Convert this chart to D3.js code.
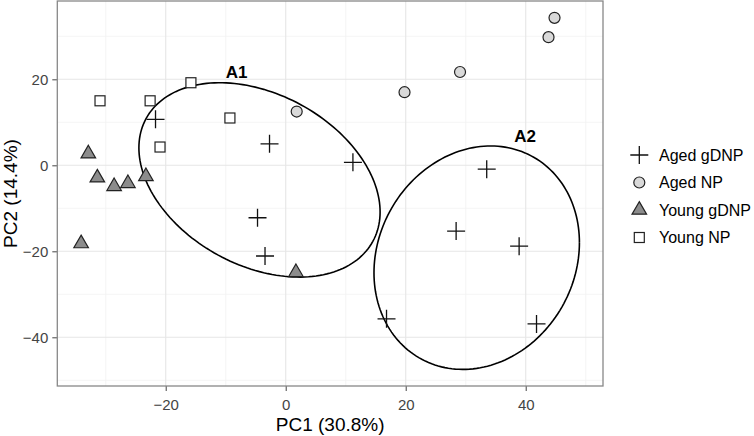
<!DOCTYPE html>
<html><head><meta charset="utf-8">
<script src="https://cdn.jsdelivr.net/npm/d3@7"></script>
<style>body{margin:0;background:#fff}svg{display:block;font-family:"Liberation Sans",Arial,sans-serif}</style>
</head><body><svg id="c" width="754" height="436"></svg>
<script>
// ---- data ----
const groups = ["Aged gDNP","Aged NP","Young gDNP","Young NP"];
const agedGDNP_x = [-21.7,-2.7,11.2,-4.7,-3.45,33.5,28.4,38.9,16.8,41.8];
const agedGDNP_y = [10.7,5.0,0.7,-12.2,-21.1,-0.9,-15.3,-18.8,-35.7,-36.9];
const agedNP_x = [19.8,29.05,43.8,44.8,1.83];
const agedNP_y = [17.0,21.7,29.8,34.3,12.5];
const youngGDNP_x = [-32.9,-31.4,-28.6,-26.3,-23.3,-34.1,1.7];
const youngGDNP_y = [2.7,-2.9,-4.9,-4.2,-2.6,-18.2,-24.9];
const youngNP_x = [-30.95,-22.6,-15.8,-20.95,-9.3];
const youngNP_y = [15.0,15.0,19.2,4.25,11.0];
// ellipses: centre, half-extent in x and y, correlation
const ellipseNames = ["A1","A2"];
const ellipseCx = [-4.37,31.83];
const ellipseCy = [-3.4,-21.49];
const ellipseSx = [20.1,17.12];
const ellipseSy = [22.6,25.98];
const ellipseR = [-0.33,0.135];
const labelX = [-8.17,39.9];
const labelY = [21.8,6.8];
const xTicks = [-20,0,20,40];
const yTicks = [-40,-20,0,20];
const xMinor = [-30,-10,10,30,50];
const yMinor = [-50,-30,-10,10,30];
const xTitle = "PC1 (30.8%)";
const yTitle = "PC2 (14.4%)";

// ---- layout ----
const svg = d3.select("#c");
const L=57.3, R=603, T=1, B=386;
const x = d3.scaleLinear().domain([-38.07,52.88]).range([L,R]);
const y = d3.scaleLinear().domain([-51.33,38.21]).range([B,T]);

svg.append("rect").attr("x",L).attr("y",T).attr("width",R-L).attr("height",B-T).attr("fill","#fff");
const grid = svg.append("g");
xMinor.forEach(v=>grid.append("line").attr("x1",x(v)).attr("x2",x(v)).attr("y1",T).attr("y2",B).attr("stroke","#f2f2f2").attr("stroke-width",0.8));
yMinor.forEach(v=>grid.append("line").attr("y1",y(v)).attr("y2",y(v)).attr("x1",L).attr("x2",R).attr("stroke","#f2f2f2").attr("stroke-width",0.8));
xTicks.forEach(v=>grid.append("line").attr("x1",x(v)).attr("x2",x(v)).attr("y1",T).attr("y2",B).attr("stroke","#e6e6e6").attr("stroke-width",1.1));
yTicks.forEach(v=>grid.append("line").attr("y1",y(v)).attr("y2",y(v)).attr("x1",L).attr("x2",R).attr("stroke","#e6e6e6").attr("stroke-width",1.1));

// axes
const ax = svg.append("g").attr("transform",`translate(0,${B})`).call(d3.axisBottom(x).tickValues(xTicks).tickSize(5).tickPadding(8).tickFormat(d3.format("d")));
const ay = svg.append("g").attr("transform",`translate(${L},0)`).call(d3.axisLeft(y).tickValues(yTicks).tickSize(5).tickPadding(4).tickFormat(d3.format("d")));
[ax,ay].forEach(a=>{a.select(".domain").remove();a.selectAll("line").attr("stroke","#555").attr("stroke-width",1.1);
  a.selectAll("text").attr("fill","#444").style("font-size","15px").style("font-family","Liberation Sans, Arial, sans-serif");});
ay.selectAll("text").attr("dy","0.36em");

// ellipses
const line = d3.line().x(d=>x(d[0])).y(d=>y(d[1]));
ellipseNames.forEach((n,i)=>{
  const pts = d3.range(0,361,2).map(a=>{const t=a*Math.PI/180;const r=ellipseR[i];
    return [ellipseCx[i]+ellipseSx[i]*Math.cos(t), ellipseCy[i]+ellipseSy[i]*(r*Math.cos(t)+Math.sqrt(1-r*r)*Math.sin(t))];});
  svg.append("path").attr("d",line(pts)).attr("fill","none").attr("stroke","#000").attr("stroke-width",1.6);
  svg.append("text").attr("x",x(labelX[i])).attr("y",y(labelY[i])).attr("dy","0.36em").attr("text-anchor","middle")
    .style("font-weight","bold").style("font-size","17px").text(n);
});

// symbols
function drawSym(g,type,cx,cy){
  if(type===0){ g.append("path").attr("d",`M${cx-9},${cy}H${cx+9}M${cx},${cy-9}V${cy+9}`).attr("stroke","#111").attr("stroke-width",1.3).attr("fill","none"); }
  else if(type===1){ g.append("circle").attr("cx",cx).attr("cy",cy).attr("r",5.5).attr("fill","#d9d9d9").attr("stroke","#222").attr("stroke-width",1.2); }
  else if(type===2){ const r=8.4, h=r*Math.sqrt(3)/2;
    g.append("path").attr("d",`M${cx},${cy-r}L${cx+h},${cy+r/2}L${cx-h},${cy+r/2}Z`).attr("fill","#8c8c8c").attr("stroke","#222").attr("stroke-width",1.2); }
  else { g.append("rect").attr("x",cx-5).attr("y",cy-5).attr("width",10).attr("height",10).attr("fill","#fff").attr("stroke","#222").attr("stroke-width",1.2); }
}
const pg = svg.append("g");
const sets = [[agedGDNP_x,agedGDNP_y],[agedNP_x,agedNP_y],[youngGDNP_x,youngGDNP_y],[youngNP_x,youngNP_y]];
sets.forEach((s,k)=>s[0].forEach((v,j)=>drawSym(pg,k,x(v),y(s[1][j]))));

// border
svg.append("rect").attr("x",L).attr("y",T).attr("width",R-L).attr("height",B-T).attr("fill","none").attr("stroke","#888").attr("stroke-width",1.3);

// titles
svg.append("text").attr("x",(L+R)/2).attr("y",431).attr("text-anchor","middle").style("font-size","19px").text(xTitle);
svg.append("text").attr("transform",`translate(17,${(T+B)/2}) rotate(-90)`).attr("text-anchor","middle").style("font-size","19px").text(yTitle);

// legend
const lg = svg.append("g");
groups.forEach((gname,i)=>{
  const cy = 155 + i*27.5;
  drawSym(lg,i,639.3,cy);
  lg.append("text").attr("x",659).attr("y",cy).attr("dy","0.36em").style("font-size","16px").text(gname);
});
</script></body></html>
